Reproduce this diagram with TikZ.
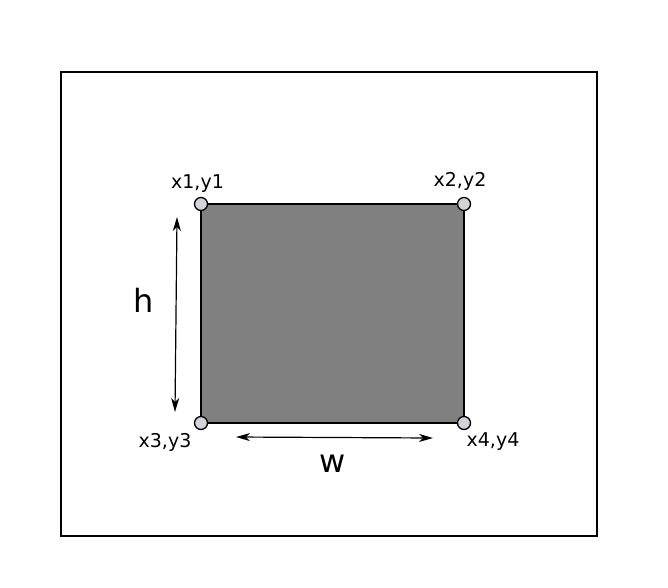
\documentclass[tikz,border=0pt]{standalone}
\usepackage{fontspec}
\setmainfont{DejaVu Sans}
\usetikzlibrary{arrows.meta}
\definecolor{boxgray}{HTML}{808080}
\definecolor{dotgray}{HTML}{D3D3DA}
\begin{document}
\begin{tikzpicture}[x=1pt,y=-1pt,
  outer/.style={draw=black,line width=2.4pt},
  block/.style={draw=black,fill=boxgray,line width=2.6pt},
  corner/.style={circle,draw=black,fill=dotgray,line width=1.3pt,minimum size=13pt,inner sep=0pt},
  lbl/.style={font=\fontsize{19}{22}\selectfont,inner sep=0pt,anchor=base},
  big/.style={font=\fontsize{32}{36}\selectfont,inner sep=0pt,anchor=base},
  dim/.style={line width=1.2pt,{Stealth[length=14pt,width=8pt,inset=4pt]}-{Stealth[length=14pt,width=8pt,inset=4pt]}}]
\useasboundingbox (0,0) rectangle (668,587);
\draw[outer] (61,72) rectangle (597,536);
\draw[block] (201,204) rectangle (464,423);
\node[corner] (c1) at (201,204) {};
\node[corner] (c2) at (464,204) {};
\node[corner] (c3) at (201,423) {};
\node[corner] (c4) at (464,423) {};
\node[lbl] (l1) at (197.5,188) {x1,y1};
\node[lbl] (l2) at (460,186) {x2,y2};
\node[lbl] (l3) at (165,447) {x3,y3};
\node[lbl] (l4) at (493,446) {x4,y4};
\node[big] (h) at (144,312) {h};
\node[big] (w) at (333,472) {w};
\coordinate (ht) at (177,217);
\coordinate (hb) at (175,412);
\coordinate (wl) at (236,437);
\coordinate (wr) at (433,438);
\draw[dim] (ht) -- (hb);
\draw[dim] (wl) -- (wr);
\end{tikzpicture}
\end{document}
